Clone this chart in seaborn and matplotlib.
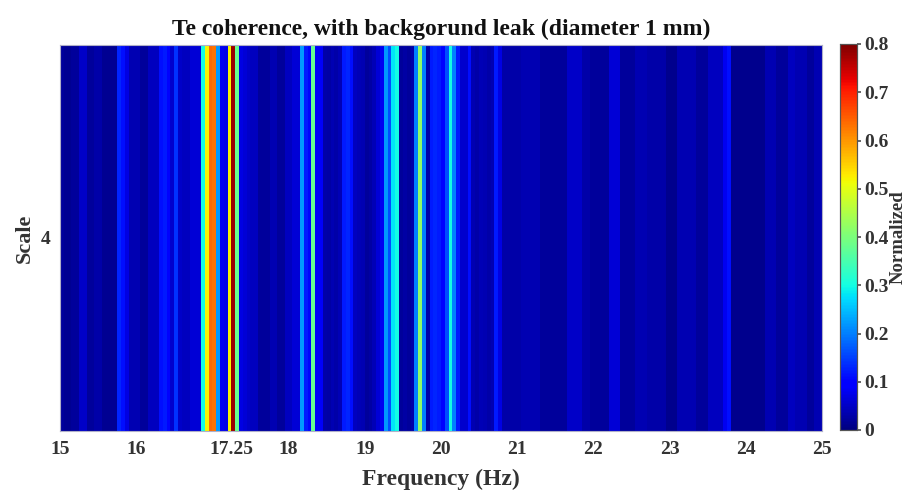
import numpy as np
import pandas as pd
import matplotlib
matplotlib.use("Agg")
import matplotlib.pyplot as plt
import seaborn as sns

# ---- data ----
freq_start = 15.0
freq_step = 0.05
scale_labels = ["4"]
xtick_values = [15, 16, 17.25, 18, 19, 20, 21, 22, 23, 24, 25]
xtick_labels = ["15", "16", "17.25", "18", "19", "20", "21", "22", "23", "24", "25"]
cbar_ticks = [0, 0.1, 0.2, 0.3, 0.4, 0.5, 0.6, 0.7, 0.8]

coherence = [
    # 15.00 - 16.65
    0.02, 0.015, 0.015, 0.02, 0.02, 0.05, 0.05, 0.02, 0.02, 0.03,
    0.03, 0.015, 0.015, 0.015, 0.015, 0.13, 0.11, 0.07, 0.035, 0.035,
    0.035, 0.02, 0.02, 0.045, 0.045, 0.045, 0.11, 0.12, 0.10, 0.055,
    0.14, 0.05, 0.045, 0.045,
    # 16.70 - 17.35
    0.06, 0.06, 0.06, 0.30, 0.52, 0.64, 0.63, 0.22, 0.08, 0.075,
    0.52, 0.78, 0.38, 0.07,
    # 17.40 - 18.10
    0.06, 0.05, 0.045, 0.045, 0.02, 0.02, 0.02, 0.035, 0.035, 0.02,
    0.02, 0.045, 0.045, 0.06, 0.06,
    # 18.15 - 19.00
    0.22, 0.12, 0.10, 0.38, 0.085, 0.085, 0.03, 0.025, 0.035, 0.03,
    0.04, 0.12, 0.13, 0.11, 0.045, 0.04, 0.035,
    # 19.00 - 19.95
    0.02, 0.025, 0.04, 0.06, 0.08, 0.22, 0.16, 0.28, 0.30, 0.02,
    0.025, 0.02, 0.03, 0.20, 0.42, 0.20, 0.03, 0.12, 0.13, 0.12,
    # 20.00 - 20.95
    0.10, 0.16, 0.30, 0.20, 0.12, 0.055, 0.055, 0.11, 0.035, 0.03,
    0.04, 0.035, 0.03, 0.035, 0.12, 0.07, 0.03, 0.03, 0.03, 0.03,
    # 21.00 - 21.95
    0.03, 0.035, 0.035, 0.035, 0.035, 0.035, 0.02, 0.02, 0.02, 0.02,
    0.02, 0.02, 0.02, 0.05, 0.05, 0.05, 0.05, 0.03, 0.03, 0.02,
    # 22.00 - 22.95
    0.02, 0.02, 0.02, 0.02, 0.06, 0.06, 0.06, 0.02, 0.02, 0.02,
    0.02, 0.035, 0.035, 0.035, 0.03, 0.03, 0.03, 0.03, 0.03, 0.012,
    # 23.00 - 23.95
    0.012, 0.012, 0.035, 0.035, 0.035, 0.035, 0.035, 0.02, 0.02, 0.02,
    0.045, 0.045, 0.045, 0.045, 0.08, 0.11, 0.012, 0.012, 0.012, 0.012,
    # 24.00 - 24.95
    0.012, 0.012, 0.012, 0.012, 0.012, 0.035, 0.035, 0.035, 0.02, 0.02,
    0.02, 0.045, 0.045, 0.035, 0.035, 0.035, 0.02, 0.02, 0.035, 0.035,
]

n = len(coherence)
freq_bins = [round(freq_start + i * freq_step, 2) for i in range(n)]
df = pd.DataFrame([coherence], index=scale_labels, columns=freq_bins)

# ---- plot ----
sns.set_theme(style="white")
plt.rcParams["font.family"] = ["Liberation Serif", "DejaVu Serif"]
plt.rcParams["font.weight"] = "bold"

fig = plt.figure(figsize=(9.08, 4.91), dpi=100)
ax = fig.add_axes([60 / 908, 1 - 431 / 491, 762 / 908, 386 / 491])
cax = fig.add_axes([840 / 908, 1 - 430 / 491, 17 / 908, 386 / 491])

sns.heatmap(df, ax=ax, cbar_ax=cax, cmap="jet", vmin=0, vmax=0.8,
            xticklabels=False, yticklabels=False,
            cbar_kws={"ticks": cbar_ticks})

ax.set_xticks([(v - freq_start) / freq_step for v in xtick_values])
ax.set_xticklabels(xtick_labels, fontsize=14, fontweight="bold", color="#333333")
ax.set_yticks([0.5])
ax.set_yticklabels(scale_labels, fontsize=14, fontweight="bold", color="#333333", rotation=0)
ax.tick_params(axis="both", length=0, pad=7)
for s in ax.spines.values():
    s.set_visible(True)
    s.set_color("#b0b0c8")
    s.set_linewidth(0.8)

ax.set_xlabel("Frequency (Hz)", fontsize=17, fontweight="bold", color="#333333", labelpad=8)
ax.set_ylabel("Scale", fontsize=16, fontweight="bold", color="#333333", labelpad=4)
ax.set_title("Te coherence, with backgorund leak (diameter 1 mm)", fontsize=17,
             fontweight="bold", color="#111111", pad=7)

cax.tick_params(labelsize=14, length=3, color="#555555", pad=2)
cax.set_yticklabels(["0", "0.1", "0.2", "0.3", "0.4", "0.5", "0.6", "0.7", "0.8"])
for t in cax.get_yticklabels():
    t.set_fontweight("bold")
    t.set_color("#333333")
cax.set_ylabel("Normalized", fontsize=13.5, fontweight="bold", color="#333333", labelpad=1)
for s in cax.spines.values():
    s.set_visible(True)
    s.set_color("#555555")
    s.set_linewidth(0.8)

fig.savefig("out.png", dpi=100)
